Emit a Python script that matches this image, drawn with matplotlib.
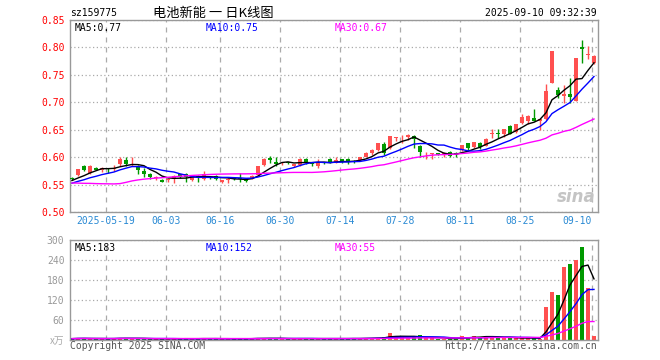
import matplotlib
matplotlib.use("Agg")
import matplotlib.pyplot as plt
import numpy as np
import pandas as pd

# daily k-line, 2025-05-09 .. 2025-09-10 (one row per trading day)
opens = [0.562, 0.567, 0.584, 0.572, 0.581, 0.576, 0.579, 0.579, 0.588, 0.595,
         0.589, 0.584, 0.575, 0.569, 0.562, 0.559, 0.559, 0.561, 0.569, 0.570,
         0.559, 0.566, 0.561, 0.563, 0.566, 0.554, 0.559, 0.562, 0.562, 0.560,
         0.561, 0.567, 0.586, 0.599, 0.591, 0.589, 0.591, 0.583, 0.586, 0.597,
         0.589, 0.584, 0.591, 0.597, 0.590, 0.596, 0.597, 0.593, 0.595, 0.601,
         0.608, 0.613, 0.624, 0.616, 0.635, 0.636, 0.636, 0.639, 0.621, 0.607,
         0.606, 0.607, 0.603, 0.610, 0.607, 0.613, 0.625, 0.618, 0.625, 0.621,
         0.642, 0.644, 0.643, 0.657, 0.645, 0.662, 0.665, 0.671, 0.665, 0.669,
         0.736, 0.722, 0.711, 0.715, 0.703, 0.801, 0.787, 0.772]
highs = [0.564, 0.579, 0.586, 0.585, 0.582, 0.582, 0.580, 0.585, 0.601, 0.601,
         0.600, 0.585, 0.580, 0.571, 0.565, 0.560, 0.562, 0.567, 0.570, 0.571,
         0.565, 0.567, 0.575, 0.565, 0.567, 0.559, 0.564, 0.563, 0.572, 0.561,
         0.567, 0.584, 0.598, 0.602, 0.601, 0.591, 0.592, 0.588, 0.598, 0.598,
         0.592, 0.596, 0.592, 0.599, 0.601, 0.597, 0.598, 0.594, 0.601, 0.609,
         0.614, 0.626, 0.628, 0.639, 0.637, 0.640, 0.642, 0.640, 0.622, 0.610,
         0.608, 0.608, 0.609, 0.611, 0.609, 0.623, 0.626, 0.628, 0.628, 0.634,
         0.651, 0.651, 0.652, 0.658, 0.661, 0.678, 0.677, 0.688, 0.670, 0.734,
         0.794, 0.728, 0.731, 0.745, 0.781, 0.814, 0.803, 0.786]
lows = [0.558, 0.566, 0.574, 0.570, 0.576, 0.573, 0.572, 0.575, 0.584, 0.583,
        0.584, 0.569, 0.563, 0.560, 0.559, 0.554, 0.555, 0.553, 0.562, 0.555,
        0.557, 0.555, 0.559, 0.560, 0.559, 0.553, 0.553, 0.559, 0.555, 0.554,
        0.560, 0.566, 0.584, 0.590, 0.584, 0.586, 0.588, 0.582, 0.584, 0.588,
        0.583, 0.580, 0.587, 0.590, 0.589, 0.590, 0.587, 0.590, 0.594, 0.600,
        0.604, 0.612, 0.604, 0.615, 0.630, 0.625, 0.632, 0.616, 0.601, 0.596,
        0.596, 0.603, 0.601, 0.600, 0.600, 0.612, 0.613, 0.617, 0.614, 0.620,
        0.634, 0.634, 0.637, 0.642, 0.644, 0.661, 0.661, 0.665, 0.649, 0.668,
        0.735, 0.707, 0.698, 0.698, 0.702, 0.771, 0.779, 0.770]
closes = [0.561, 0.578, 0.577, 0.583, 0.577, 0.580, 0.578, 0.580, 0.597, 0.588,
          0.590, 0.577, 0.570, 0.563, 0.563, 0.555, 0.560, 0.566, 0.564, 0.564,
          0.564, 0.562, 0.570, 0.562, 0.561, 0.558, 0.560, 0.561, 0.560, 0.557,
          0.566, 0.583, 0.597, 0.594, 0.588, 0.589, 0.589, 0.587, 0.597, 0.589,
          0.588, 0.592, 0.589, 0.592, 0.595, 0.592, 0.592, 0.592, 0.600, 0.608,
          0.613, 0.625, 0.608, 0.638, 0.636, 0.637, 0.640, 0.633, 0.610, 0.608,
          0.607, 0.604, 0.607, 0.602, 0.606, 0.622, 0.616, 0.627, 0.619, 0.633,
          0.644, 0.643, 0.651, 0.643, 0.660, 0.674, 0.675, 0.666, 0.669, 0.720,
          0.793, 0.713, 0.715, 0.710, 0.780, 0.798, 0.788, 0.784]
# volume, in 10k lots
volumes = [4, 5, 5, 4, 4, 4, 4, 5, 7, 5,
           4, 4, 4, 4, 3, 4, 4, 4, 4, 4,
           4, 4, 5, 4, 4, 3, 4, 4, 4, 4,
           4, 7, 5, 5, 4, 4, 4, 4, 5, 4,
           4, 4, 4, 5, 4, 4, 4, 5, 5, 6,
           6, 7, 8, 21, 12, 8, 6, 8, 15, 5,
           5, 4, 4, 4, 4, 12, 8, 12, 7, 12,
           12, 6, 6, 6, 5, 6, 6, 6, 3, 100,
           143, 135, 219, 228, 241, 280, 156, 12]
# closes before the window, only needed to start the moving averages
earlier_closes = [0.585, 0.588, 0.586, 0.590, 0.587, 0.583, 0.585, 0.580,
                  0.520, 0.512, 0.522,
                  0.528, 0.532, 0.535, 0.534, 0.538, 0.536, 0.540, 0.538, 0.542,
                  0.545, 0.548, 0.547, 0.550, 0.549,
                  0.555, 0.556, 0.558, 0.557]

tick_labels = ["2025-05-19", "06-03", "06-16", "06-30", "07-14", "07-28", "08-11", "08-25", "09-10"]

dates = pd.bdate_range("2025-05-09", "2025-09-10").drop(pd.Timestamp("2025-06-02"))

UP = "#ff5050"
DOWN = "#009900"
GRID = "#aaaaaa"
MONO = "DejaVu Sans Mono"

o = np.array(opens)
h = np.array(highs)
l = np.array(lows)
c = np.array(closes)
v = np.array(volumes)
x = np.arange(len(c))
up = c >= o
colors = np.where(up, UP, DOWN)

all_close = pd.Series(earlier_closes + closes)
n_hist = len(earlier_closes)
ma5 = all_close.rolling(5).mean().to_numpy()[n_hist:]
ma10 = all_close.rolling(10).mean().to_numpy()[n_hist:]
ma30 = all_close.rolling(30).mean().to_numpy()[n_hist:]
vs = pd.Series(volumes)
vma5 = vs.rolling(5, min_periods=1).mean()
vma10 = vs.rolling(10, min_periods=1).mean()
vma30 = vs.rolling(30, min_periods=1).mean()

fig = plt.figure(figsize=(6.6, 3.6), dpi=100)
fig.patch.set_facecolor("white")
ax = fig.add_axes([70 / 660, 1 - 212 / 360, 528 / 660, 192 / 360])
axv = fig.add_axes([70 / 660, 1 - 340 / 360, 528 / 660, 100 / 360])

date_strs = [d.strftime("%Y-%m-%d") for d in dates]
tick_idx = []
for lab in tick_labels:
  full = lab if len(lab) == 10 else "2025-" + lab
  tick_idx.append(date_strs.index(full) - 0.33)

for a in (ax, axv):
  a.set_xlim(-0.33, len(c) - 0.33)
  for s in a.spines.values():
    s.set_color("#999999")
    s.set_linewidth(1.0)
  a.set_xticks(tick_idx)
  a.grid(axis="x", color=GRID, linestyle=(0, (4, 4)), linewidth=0.9)
  a.grid(axis="y", color=GRID, linestyle=(0, (1, 2)), linewidth=0.9)
  a.tick_params(length=0)
  a.set_axisbelow(True)

# candles
ax.vlines(x, l, h, colors=colors, linewidth=1.0, zorder=2)
body = np.maximum(np.abs(c - o), 0.0012)
ax.bar(x, body, bottom=np.minimum(o, c), width=0.68, color=colors, linewidth=0, zorder=3)
ax.plot(x, ma5, color="black", linewidth=1.0, zorder=4)
ax.plot(x, ma10, color="#0000ff", linewidth=1.0, zorder=4)
ax.plot(x, ma30, color="#ff00ff", linewidth=1.0, zorder=4)

ax.set_ylim(0.50, 0.85)
yt = np.arange(0.50, 0.851, 0.05)
ax.set_yticks(yt)
ax.set_yticklabels(["%.2f" % t for t in yt], color="red", fontsize=7, family=MONO)
ax.tick_params(axis="y", pad=4)
ax.set_xticklabels(tick_labels, color="#2a8ad4", fontsize=7, family=MONO)
ax.tick_params(axis="x", pad=3)
ax.get_xticklabels()[-1].set_ha("right")

ax.text(0.0095, 0.985, "MA5:%.2f" % ma5[-1], transform=ax.transAxes, color="black",
        fontsize=7, family=MONO, va="top", ha="left")
ax.text(0.256, 0.985, "MA10:%.2f" % ma10[-1], transform=ax.transAxes, color="#0000ff",
        fontsize=7, family=MONO, va="top", ha="left")
ax.text(0.502, 0.985, "MA30:%.2f" % ma30[-1], transform=ax.transAxes, color="#ff00ff",
        fontsize=7, family=MONO, va="top", ha="left")
ax.text(0.995, 0.03, "sina", transform=ax.transAxes, color="#c4c4c4", fontsize=12,
        fontweight="bold", style="italic", ha="right", va="bottom", zorder=1)

# volume
axv.bar(x, v, width=0.8, color=colors, linewidth=0, zorder=2)
axv.plot(x, vma5, color="black", linewidth=1.0, zorder=3)
axv.plot(x, vma10, color="#0000ff", linewidth=1.0, zorder=3)
axv.plot(x, vma30, color="#ff00ff", linewidth=1.0, zorder=3)
axv.set_ylim(0, 300)
axv.set_yticks([0, 60, 120, 180, 240, 300])
axv.set_yticklabels(["", "60", "120", "180", "240", "300"], color="#999999", fontsize=7, family=MONO)
axv.tick_params(axis="y", pad=4)
axv.set_xticklabels([])

axv.text(0.0095, 0.97, "MA5:%d" % round(vma5.iloc[-1]), transform=axv.transAxes, color="black",
         fontsize=7, family=MONO, va="top", ha="left")
axv.text(0.256, 0.97, "MA10:%d" % round(vma10.iloc[-1]), transform=axv.transAxes, color="#0000ff",
         fontsize=7, family=MONO, va="top", ha="left")
axv.text(0.502, 0.97, "MA30:%d" % int(vma30.iloc[-1]), transform=axv.transAxes, color="#ff00ff",
         fontsize=7, family=MONO, va="top", ha="left")

# header and footer
fig.text(70 / 660, 1 - 13 / 360, "sz159775", fontsize=7, family=MONO, va="center", ha="left")
fig.text(213 / 660, 1 - 13 / 360, "电池新能 一 日K线图", fontsize=9.5,
         family=["Noto Sans CJK SC", "DejaVu Sans"], va="center", ha="center")
fig.text(597 / 660, 1 - 13 / 360, "2025-09-10 09:32:39", fontsize=7, family=MONO, va="center", ha="right")
fig.text(64 / 660, 1 - 341 / 360, "x万", fontsize=7, color="#aaaaaa",
         family=["Noto Sans CJK SC", "DejaVu Sans"], va="center", ha="right")
fig.text(70 / 660, 1 - 346 / 360, "Copyright 2025 SINA.COM", fontsize=7, color="#555555",
         family=MONO, va="center", ha="left")
fig.text(597 / 660, 1 - 346 / 360, "http://finance.sina.com.cn", fontsize=7, color="#555555",
         family=MONO, va="center", ha="right")

fig.savefig("out.png", dpi=100)
